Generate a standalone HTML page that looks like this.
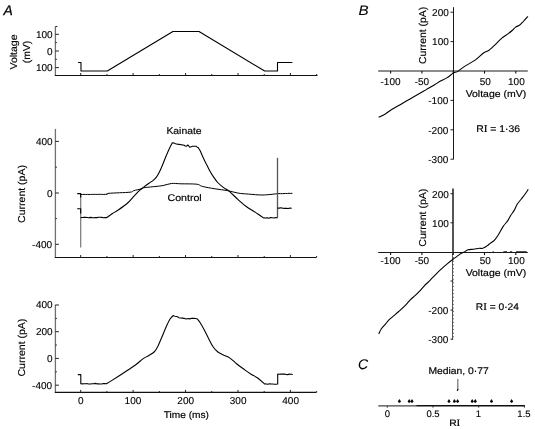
<!DOCTYPE html>
<html><head><meta charset="utf-8"><style>
html,body{margin:0;padding:0;background:#fff;}
svg{display:block;will-change:transform;}
text{font-family:"Liberation Sans", sans-serif;fill:#000;text-rendering:geometricPrecision;}
</style></head><body>
<svg width="535" height="429" viewBox="0 0 535 429">
<rect width="535" height="429" fill="#fff"/>
<text x="3.47" y="14.6" font-size="14" font-style="italic" stroke="#000" stroke-width="0.25" textLength="9.29" lengthAdjust="spacingAndGlyphs">A</text>
<line x1="55.4" y1="26.5" x2="55.4" y2="76" stroke="#707070" stroke-width="1.3"/>
<line x1="54.9" y1="75.5" x2="317.5" y2="75.5" stroke="#111" stroke-width="1"/>
<line x1="55.4" y1="34.3" x2="58.9" y2="34.3" stroke="#222" stroke-width="1"/>
<line x1="55.4" y1="42.6" x2="56.9" y2="42.6" stroke="#222" stroke-width="1"/>
<line x1="55.4" y1="51.0" x2="58.9" y2="51.0" stroke="#222" stroke-width="1"/>
<line x1="55.4" y1="59.3" x2="56.9" y2="59.3" stroke="#222" stroke-width="1"/>
<line x1="55.4" y1="67.6" x2="58.9" y2="67.6" stroke="#222" stroke-width="1"/>
<line x1="55.4" y1="26.5" x2="57.4" y2="26.5" stroke="#222" stroke-width="1"/>
<line x1="80.7" y1="75.5" x2="80.7" y2="73.0" stroke="#222" stroke-width="1"/>
<line x1="106.915" y1="75.5" x2="106.915" y2="74.0" stroke="#222" stroke-width="1"/>
<line x1="133.13" y1="75.5" x2="133.13" y2="73.0" stroke="#222" stroke-width="1"/>
<line x1="159.345" y1="75.5" x2="159.345" y2="74.0" stroke="#222" stroke-width="1"/>
<line x1="185.56" y1="75.5" x2="185.56" y2="73.0" stroke="#222" stroke-width="1"/>
<line x1="211.77499999999998" y1="75.5" x2="211.77499999999998" y2="74.0" stroke="#222" stroke-width="1"/>
<line x1="237.99" y1="75.5" x2="237.99" y2="73.0" stroke="#222" stroke-width="1"/>
<line x1="264.205" y1="75.5" x2="264.205" y2="74.0" stroke="#222" stroke-width="1"/>
<line x1="290.42" y1="75.5" x2="290.42" y2="73.0" stroke="#222" stroke-width="1"/>
<line x1="316.635" y1="75.5" x2="316.635" y2="74.0" stroke="#222" stroke-width="1"/>
<text x="35.90" y="38.1" font-size="10" stroke="#000" stroke-width="0.12" textLength="16.69" lengthAdjust="spacingAndGlyphs">100</text>
<text x="46.90" y="54.6" font-size="10" stroke="#000" stroke-width="0.12" textLength="5.56" lengthAdjust="spacingAndGlyphs">0</text>
<text x="35.90" y="71.2" font-size="10" stroke="#000" stroke-width="0.12" textLength="16.69" lengthAdjust="spacingAndGlyphs">100</text>
<text x="16.9" y="69.54" font-size="10" stroke="#000" stroke-width="0.15" textLength="35.14" lengthAdjust="spacingAndGlyphs" transform="rotate(-90 16.9 69.54)">Voltage</text>
<text x="30.4" y="63.28" font-size="10" stroke="#000" stroke-width="0.15" textLength="22.53" lengthAdjust="spacingAndGlyphs" transform="rotate(-90 30.4 63.28)">(mV)</text>
<polyline points="78.1,62.5 81.0,62.5 81.0,71.0 107.3,71.0 172.9,31.5 199.0,31.5 264.7,71.0 277.5,71.0 277.5,62.5 292.4,62.5" fill="none" stroke="#000" stroke-width="1.1" stroke-linejoin="round"/>
<line x1="55.4" y1="128.9" x2="55.4" y2="258" stroke="#707070" stroke-width="1.3"/>
<line x1="54.9" y1="257.5" x2="316.5" y2="257.5" stroke="#111" stroke-width="1"/>
<line x1="55.4" y1="141.4" x2="58.9" y2="141.4" stroke="#222" stroke-width="1"/>
<line x1="55.4" y1="167.2" x2="56.9" y2="167.2" stroke="#222" stroke-width="1"/>
<line x1="55.4" y1="193.0" x2="58.9" y2="193.0" stroke="#222" stroke-width="1"/>
<line x1="55.4" y1="218.6" x2="56.9" y2="218.6" stroke="#222" stroke-width="1"/>
<line x1="55.4" y1="244.3" x2="58.9" y2="244.3" stroke="#222" stroke-width="1"/>
<line x1="80.7" y1="257.5" x2="80.7" y2="255.0" stroke="#222" stroke-width="1"/>
<line x1="106.915" y1="257.5" x2="106.915" y2="256.0" stroke="#222" stroke-width="1"/>
<line x1="133.13" y1="257.5" x2="133.13" y2="255.0" stroke="#222" stroke-width="1"/>
<line x1="159.345" y1="257.5" x2="159.345" y2="256.0" stroke="#222" stroke-width="1"/>
<line x1="185.56" y1="257.5" x2="185.56" y2="255.0" stroke="#222" stroke-width="1"/>
<line x1="211.77499999999998" y1="257.5" x2="211.77499999999998" y2="256.0" stroke="#222" stroke-width="1"/>
<line x1="237.99" y1="257.5" x2="237.99" y2="255.0" stroke="#222" stroke-width="1"/>
<line x1="264.205" y1="257.5" x2="264.205" y2="256.0" stroke="#222" stroke-width="1"/>
<line x1="290.42" y1="257.5" x2="290.42" y2="255.0" stroke="#222" stroke-width="1"/>
<line x1="316.635" y1="257.5" x2="316.635" y2="256.0" stroke="#222" stroke-width="1"/>
<text x="35.90" y="145.0" font-size="10" stroke="#000" stroke-width="0.12" textLength="16.69" lengthAdjust="spacingAndGlyphs">400</text>
<text x="46.90" y="196.6" font-size="10" stroke="#000" stroke-width="0.12" textLength="5.56" lengthAdjust="spacingAndGlyphs">0</text>
<text x="32.07" y="247.8" font-size="10" stroke="#000" stroke-width="0.12" textLength="20.02" lengthAdjust="spacingAndGlyphs">-400</text>
<text x="25.0" y="222.88" font-size="10" stroke="#000" stroke-width="0.15" textLength="57.80" lengthAdjust="spacingAndGlyphs" transform="rotate(-90 25.0 222.88)">Current (pA)</text>
<text x="166.42" y="133.9" font-size="9.7" stroke="#000" stroke-width="0.18" textLength="35.16" lengthAdjust="spacingAndGlyphs">Kainate</text>
<text x="167.51" y="201.3" font-size="9.7" stroke="#000" stroke-width="0.18" textLength="34.20" lengthAdjust="spacingAndGlyphs">Control</text>
<line x1="80.7" y1="193.6" x2="80.7" y2="247.4" stroke="#777" stroke-width="1.2"/>
<path d="M77.20,193.60 L80.70,193.60 L80.70,197.50" fill="none" stroke="#000" stroke-width="1.1" stroke-linejoin="round"/>
<path d="M77.20,208.70 L80.70,208.70 L80.70,213.50" fill="none" stroke="#000" stroke-width="1.1" stroke-linejoin="round"/>
<path d="M80.70,194.50 L82.36,194.45 L84.01,194.40 L85.67,194.52 L87.33,194.37 L88.98,194.48 L90.64,194.43 L92.29,194.35 L93.95,194.45 L95.61,194.33 L97.26,194.42 L98.92,194.33 L100.58,194.33 L102.23,194.40 L103.89,194.49 L105.54,194.32 L107.20,194.40 C107.50,194.22 105.20,193.67 109.00,193.30 C112.80,192.93 125.92,192.63 130.00,192.20 C134.08,191.77 131.57,191.27 133.50,190.70 C135.43,190.13 139.95,189.28 141.60,188.80 C143.25,188.32 141.47,188.15 143.40,187.80 C145.33,187.45 149.95,187.07 153.20,186.70 C156.45,186.33 159.88,186.13 162.90,185.60 C165.92,185.07 168.27,183.80 171.30,183.50 C174.33,183.20 176.85,183.68 181.10,183.80 C185.35,183.92 193.27,183.77 196.80,184.20 C200.33,184.63 199.28,185.63 202.30,186.40 C205.32,187.17 210.70,188.10 214.90,188.80 C219.10,189.50 223.63,189.88 227.50,190.60 C231.37,191.32 234.58,192.52 238.10,193.10 C241.62,193.68 244.47,193.78 248.60,194.10 C252.73,194.42 258.12,195.07 262.90,195.00 C267.68,194.93 274.90,193.92 277.30,193.70 L278.98,193.59 L280.66,193.64 L282.33,193.67 L284.01,193.54 L285.69,193.45 L287.37,193.55 L289.04,193.28 L290.72,193.43 L292.40,193.30" fill="none" stroke="#000" stroke-width="1.0" stroke-linejoin="round"/>
<path d="M80.70,217.60 L82.33,217.45 L83.95,217.35 L85.58,217.33 L87.20,217.47 L88.83,217.82 L90.45,217.38 L92.08,217.66 L93.70,217.70 L95.33,217.51 L96.95,217.63 L98.58,217.29 L100.20,217.29 L101.83,217.39 L103.45,217.73 L105.08,217.55 L106.70,217.60 C107.67,216.92 110.57,214.77 112.50,213.50 C114.43,212.23 115.78,211.75 118.30,210.00 C120.82,208.25 125.07,205.23 127.60,203.00 C130.13,200.77 132.15,198.03 133.50,196.60 C134.85,195.17 134.73,195.38 135.70,194.40 C136.67,193.42 138.02,191.87 139.30,190.70 C140.58,189.53 141.78,188.65 143.40,187.40 C145.02,186.15 147.37,184.37 149.00,183.20 C150.63,182.03 151.93,181.45 153.20,180.40 C154.47,179.35 155.57,178.30 156.60,176.90 C157.63,175.50 158.47,173.87 159.40,172.00 C160.33,170.13 161.27,167.92 162.20,165.70 C163.13,163.48 163.95,161.25 165.00,158.70 C166.05,156.15 167.27,153.07 168.50,150.40 C169.73,147.73 171.75,143.98 172.40,142.70 L173.95,143.07 L175.50,143.70 L177.37,144.13 L179.23,144.40 L181.10,144.80 L182.65,144.91 L184.20,145.30 L185.25,145.96 L186.30,146.20 L187.00,145.74 L187.70,145.00 L188.75,145.97 L189.80,147.30 L191.20,146.80 L192.60,146.20 L194.35,146.22 L196.10,146.20 L197.15,147.16 L198.20,147.60 C198.55,148.18 199.50,149.48 200.30,151.10 C201.10,152.72 202.08,155.33 203.00,157.30 C203.92,159.27 204.75,160.80 205.80,162.90 C206.85,165.00 208.02,167.57 209.30,169.90 C210.58,172.23 212.10,174.80 213.50,176.90 C214.90,179.00 216.07,180.75 217.70,182.50 C219.33,184.25 221.32,185.88 223.30,187.40 C225.28,188.92 227.13,189.57 229.60,191.60 C232.07,193.63 235.38,197.17 238.10,199.60 C240.82,202.03 243.07,204.12 245.90,206.20 C248.73,208.28 252.80,210.58 255.10,212.10 C257.40,213.62 258.28,214.33 259.70,215.30 C261.12,216.27 262.95,217.47 263.60,217.90 L265.34,218.04 L267.08,217.70 L268.81,218.16 L270.55,217.53 L272.29,217.72 L274.02,217.93 L275.76,217.48 L277.50,217.70" fill="none" stroke="#000" stroke-width="1.1" stroke-linejoin="round"/>
<line x1="277.5" y1="157.8" x2="277.5" y2="218.2" stroke="#555" stroke-width="1.3"/>
<path d="M277.50,208.10 L279.27,208.12 L281.05,207.83 L282.82,208.29 L284.60,208.39 L286.38,208.28 L288.15,208.51 L289.93,208.14 L291.70,208.30" fill="none" stroke="#000" stroke-width="1.1" stroke-linejoin="round"/>
<line x1="55.4" y1="304.8" x2="55.4" y2="393" stroke="#707070" stroke-width="1.3"/>
<line x1="54.9" y1="392.4" x2="316.5" y2="392.4" stroke="#111" stroke-width="1.2"/>
<line x1="55.4" y1="305.0" x2="58.9" y2="305.0" stroke="#222" stroke-width="1"/>
<line x1="55.4" y1="318.4" x2="56.9" y2="318.4" stroke="#222" stroke-width="1"/>
<line x1="55.4" y1="331.7" x2="58.9" y2="331.7" stroke="#222" stroke-width="1"/>
<line x1="55.4" y1="345.0" x2="56.9" y2="345.0" stroke="#222" stroke-width="1"/>
<line x1="55.4" y1="358.4" x2="58.9" y2="358.4" stroke="#222" stroke-width="1"/>
<line x1="55.4" y1="371.8" x2="56.9" y2="371.8" stroke="#222" stroke-width="1"/>
<line x1="55.4" y1="385.2" x2="58.9" y2="385.2" stroke="#222" stroke-width="1"/>
<line x1="80.7" y1="392.4" x2="80.7" y2="389.9" stroke="#222" stroke-width="1"/>
<line x1="106.915" y1="392.4" x2="106.915" y2="391.0" stroke="#222" stroke-width="1"/>
<line x1="133.13" y1="392.4" x2="133.13" y2="389.9" stroke="#222" stroke-width="1"/>
<line x1="159.345" y1="392.4" x2="159.345" y2="391.0" stroke="#222" stroke-width="1"/>
<line x1="185.56" y1="392.4" x2="185.56" y2="389.9" stroke="#222" stroke-width="1"/>
<line x1="211.77499999999998" y1="392.4" x2="211.77499999999998" y2="391.0" stroke="#222" stroke-width="1"/>
<line x1="237.99" y1="392.4" x2="237.99" y2="389.9" stroke="#222" stroke-width="1"/>
<line x1="264.205" y1="392.4" x2="264.205" y2="391.0" stroke="#222" stroke-width="1"/>
<line x1="290.42" y1="392.4" x2="290.42" y2="389.9" stroke="#222" stroke-width="1"/>
<line x1="316.635" y1="392.4" x2="316.635" y2="391.0" stroke="#222" stroke-width="1"/>
<text x="35.90" y="308.2" font-size="10" stroke="#000" stroke-width="0.12" textLength="16.69" lengthAdjust="spacingAndGlyphs">400</text>
<text x="35.90" y="334.8" font-size="10" stroke="#000" stroke-width="0.12" textLength="16.69" lengthAdjust="spacingAndGlyphs">200</text>
<text x="46.90" y="361.8" font-size="10" stroke="#000" stroke-width="0.12" textLength="5.56" lengthAdjust="spacingAndGlyphs">0</text>
<text x="32.07" y="389.4" font-size="10" stroke="#000" stroke-width="0.12" textLength="20.02" lengthAdjust="spacingAndGlyphs">-400</text>
<text x="24.8" y="376.48" font-size="10" stroke="#000" stroke-width="0.15" textLength="57.80" lengthAdjust="spacingAndGlyphs" transform="rotate(-90 24.8 376.48)">Current (pA)</text>
<text x="78.09" y="403.9" font-size="10" stroke="#000" stroke-width="0.12" textLength="5.56" lengthAdjust="spacingAndGlyphs">0</text>
<text x="124.60" y="403.9" font-size="10" stroke="#000" stroke-width="0.12" textLength="16.69" lengthAdjust="spacingAndGlyphs">100</text>
<text x="177.37" y="403.9" font-size="10" stroke="#000" stroke-width="0.12" textLength="16.69" lengthAdjust="spacingAndGlyphs">200</text>
<text x="229.78" y="403.9" font-size="10" stroke="#000" stroke-width="0.12" textLength="16.69" lengthAdjust="spacingAndGlyphs">300</text>
<text x="282.30" y="403.9" font-size="10" stroke="#000" stroke-width="0.12" textLength="16.69" lengthAdjust="spacingAndGlyphs">400</text>
<text x="163.65" y="418.4" font-size="9.7" stroke="#000" stroke-width="0.18" textLength="45.33" lengthAdjust="spacingAndGlyphs">Time (ms)</text>
<path d="M77.80,374.60 L80.80,374.60 L80.80,383.70 L82.41,383.84 L84.01,383.77 L85.62,383.76 L87.22,383.67 L88.83,383.94 L90.44,384.01 L92.04,383.68 L93.65,383.81 L95.26,383.39 L96.86,383.84 L98.47,383.80 L100.08,384.05 L101.68,383.93 L103.29,383.55 L104.89,383.62 L106.50,383.70 C107.28,383.23 108.25,382.77 111.20,380.90 C114.15,379.03 120.17,375.15 124.20,372.50 C128.23,369.85 132.28,367.27 135.40,365.00 C138.52,362.73 140.72,360.45 142.90,358.90 C145.08,357.35 146.63,356.85 148.50,355.70 C150.37,354.55 152.55,353.55 154.10,352.00 C155.65,350.45 156.57,348.73 157.80,346.40 C159.03,344.07 160.10,341.27 161.50,338.00 C162.90,334.73 164.80,329.92 166.20,326.80 C167.60,323.68 168.75,321.17 169.90,319.30 C171.05,317.43 172.57,316.22 173.10,315.60 L174.80,316.17 L176.50,316.50 L177.60,316.77 L178.70,317.70 L180.57,318.00 L182.45,318.12 L184.32,318.41 L186.20,319.00 L188.05,318.54 L189.90,318.89 L191.75,318.29 L193.60,318.40 L195.50,318.52 L197.40,319.00 C197.87,319.62 199.12,321.00 200.20,322.70 C201.28,324.40 202.50,326.55 203.90,329.20 C205.30,331.85 207.05,335.63 208.60,338.60 C210.15,341.57 211.65,344.77 213.20,347.00 C214.75,349.23 216.18,350.67 217.90,352.00 C219.62,353.33 221.48,353.98 223.50,355.00 C225.52,356.02 227.83,356.65 230.00,358.10 C232.17,359.55 234.17,361.83 236.50,363.70 C238.83,365.57 241.63,367.58 244.00,369.30 C246.37,371.02 248.48,372.58 250.70,374.00 C252.92,375.42 255.00,376.13 257.30,377.80 C259.60,379.47 263.30,382.97 264.50,384.00 L266.15,383.92 L267.80,384.26 L269.45,383.71 L271.10,383.96 L272.75,384.03 L274.40,384.27 L276.05,384.22 L277.70,384.00 L277.70,374.00 L279.38,374.31 L281.06,373.96 L282.73,374.11 L284.41,374.12 L286.09,374.55 L287.77,374.65 L289.44,374.14 L291.12,374.22 L292.80,374.50" fill="none" stroke="#000" stroke-width="1.1" stroke-linejoin="round"/>
<text x="358.51" y="14.5" font-size="13.7" font-style="italic" stroke="#000" stroke-width="0.08" textLength="10.14" lengthAdjust="spacingAndGlyphs">B</text>
<line x1="378.2" y1="71.0" x2="527.8" y2="71.0" stroke="#1a1a1a" stroke-width="1"/>
<line x1="453.5" y1="7.2" x2="453.5" y2="159.5" stroke="#1a1a1a" stroke-width="1"/>
<line x1="390.59999999999997" y1="71.0" x2="390.59999999999997" y2="73.6" stroke="#111" stroke-width="1.1"/>
<line x1="421.9" y1="71.0" x2="421.9" y2="73.6" stroke="#111" stroke-width="1.1"/>
<line x1="453.2" y1="71.0" x2="453.2" y2="73.6" stroke="#111" stroke-width="1.1"/>
<line x1="484.5" y1="71.0" x2="484.5" y2="73.6" stroke="#111" stroke-width="1.1"/>
<line x1="515.8" y1="71.0" x2="515.8" y2="73.6" stroke="#111" stroke-width="1.1"/>
<line x1="450.5" y1="12.200000000000003" x2="453.2" y2="12.200000000000003" stroke="#222" stroke-width="1"/>
<line x1="450.5" y1="41.6" x2="453.2" y2="41.6" stroke="#222" stroke-width="1"/>
<line x1="450.5" y1="100.4" x2="453.2" y2="100.4" stroke="#222" stroke-width="1"/>
<line x1="450.5" y1="129.8" x2="453.2" y2="129.8" stroke="#222" stroke-width="1"/>
<line x1="450.5" y1="159.2" x2="453.2" y2="159.2" stroke="#222" stroke-width="1"/>
<text x="432.10" y="16.000000000000004" font-size="10" stroke="#000" stroke-width="0.12" textLength="16.69" lengthAdjust="spacingAndGlyphs">200</text>
<text x="432.10" y="45.4" font-size="10" stroke="#000" stroke-width="0.12" textLength="16.69" lengthAdjust="spacingAndGlyphs">100</text>
<text x="428.27" y="104.2" font-size="10" stroke="#000" stroke-width="0.12" textLength="20.02" lengthAdjust="spacingAndGlyphs">-100</text>
<text x="428.27" y="133.60000000000002" font-size="10" stroke="#000" stroke-width="0.12" textLength="20.02" lengthAdjust="spacingAndGlyphs">-200</text>
<text x="428.27" y="163.0" font-size="10" stroke="#000" stroke-width="0.12" textLength="20.02" lengthAdjust="spacingAndGlyphs">-300</text>
<text x="380.49" y="84.6" font-size="10" stroke="#000" stroke-width="0.12" textLength="20.02" lengthAdjust="spacingAndGlyphs">-100</text>
<text x="414.70" y="84.6" font-size="10" stroke="#000" stroke-width="0.12" textLength="14.45" lengthAdjust="spacingAndGlyphs">-50</text>
<text x="479.65" y="84.6" font-size="10" stroke="#000" stroke-width="0.12" textLength="11.12" lengthAdjust="spacingAndGlyphs">50</text>
<text x="508.07" y="84.6" font-size="10" stroke="#000" stroke-width="0.12" textLength="16.69" lengthAdjust="spacingAndGlyphs">100</text>
<text x="425.6" y="63.87" font-size="10" stroke="#000" stroke-width="0.15" textLength="56.99" lengthAdjust="spacingAndGlyphs" transform="rotate(-90 425.6 63.87)">Current (pA)</text>
<text x="465.65" y="96.8" font-size="9.7" stroke="#000" stroke-width="0.18" textLength="60.55" lengthAdjust="spacingAndGlyphs">Voltage (mV)</text>
<text x="476.15" y="131.6" font-size="9.7" stroke="#000" stroke-width="0.18" textLength="43.94" lengthAdjust="spacingAndGlyphs">R<tspan font-family="Liberation Serif" font-size="1.08em">I</tspan> = 1·36</text>
<path d="M378.60,117.20 C379.72,116.67 383.12,115.28 385.30,114.00 C387.48,112.72 389.15,111.10 391.70,109.50 C394.25,107.90 397.62,106.12 400.60,104.40 C403.58,102.68 406.60,100.92 409.60,99.20 C412.60,97.48 415.82,95.70 418.60,94.10 C421.38,92.50 423.63,91.15 426.30,89.60 C428.97,88.05 432.23,86.23 434.60,84.80 C436.97,83.37 438.47,82.15 440.50,81.00 C442.53,79.85 444.62,79.25 446.80,77.90 C448.98,76.55 451.85,73.95 453.60,72.90 C455.35,71.85 455.47,72.68 457.30,71.60 C459.13,70.52 461.63,68.32 464.60,66.40 C467.57,64.48 471.97,62.33 475.10,60.10 C478.23,57.87 481.08,54.65 483.40,53.00 C485.72,51.35 486.90,51.72 489.00,50.20 C491.10,48.68 493.90,45.88 496.00,43.90 C498.10,41.92 499.50,40.05 501.60,38.30 C503.70,36.55 506.73,34.80 508.60,33.40 C510.47,32.00 511.63,30.95 512.80,29.90 C513.97,28.85 514.43,27.92 515.60,27.10 C516.77,26.28 518.52,25.93 519.80,25.00 C521.08,24.07 521.95,22.95 523.30,21.50 C524.65,20.05 527.13,17.17 527.90,16.30" fill="none" stroke="#000" stroke-width="1.1" stroke-linejoin="round"/>
<line x1="378.2" y1="252.5" x2="527.8" y2="252.5" stroke="#1a1a1a" stroke-width="1"/>
<line x1="453.0" y1="188.4" x2="453.0" y2="252.5" stroke="#2a2a2a" stroke-width="1.6"/>
<line x1="452.5" y1="252.5" x2="452.5" y2="339.2" stroke="#555" stroke-width="1"/>
<line x1="453.5" y1="253.5" x2="453.5" y2="339.2" stroke="#666" stroke-width="1" stroke-dasharray="1 2.6"/>
<line x1="390.59999999999997" y1="252.5" x2="390.59999999999997" y2="255.1" stroke="#111" stroke-width="1.1"/>
<line x1="421.9" y1="252.5" x2="421.9" y2="255.1" stroke="#111" stroke-width="1.1"/>
<line x1="453.2" y1="252.5" x2="453.2" y2="255.1" stroke="#111" stroke-width="1.1"/>
<line x1="484.5" y1="252.5" x2="484.5" y2="255.1" stroke="#111" stroke-width="1.1"/>
<line x1="515.8" y1="252.5" x2="515.8" y2="255.1" stroke="#111" stroke-width="1.1"/>
<line x1="450.5" y1="193.7" x2="453.2" y2="193.7" stroke="#222" stroke-width="1"/>
<line x1="450.5" y1="222.8" x2="453.2" y2="222.8" stroke="#222" stroke-width="1"/>
<line x1="450.5" y1="281.0" x2="453.2" y2="281.0" stroke="#222" stroke-width="1"/>
<line x1="450.5" y1="310.1" x2="453.2" y2="310.1" stroke="#222" stroke-width="1"/>
<line x1="450.5" y1="339.20000000000005" x2="453.2" y2="339.20000000000005" stroke="#222" stroke-width="1"/>
<text x="432.10" y="197.5" font-size="10" stroke="#000" stroke-width="0.12" textLength="16.69" lengthAdjust="spacingAndGlyphs">200</text>
<text x="432.10" y="226.60000000000002" font-size="10" stroke="#000" stroke-width="0.12" textLength="16.69" lengthAdjust="spacingAndGlyphs">100</text>
<text x="428.27" y="313.90000000000003" font-size="10" stroke="#000" stroke-width="0.12" textLength="20.02" lengthAdjust="spacingAndGlyphs">-200</text>
<text x="428.27" y="343.00000000000006" font-size="10" stroke="#000" stroke-width="0.12" textLength="20.02" lengthAdjust="spacingAndGlyphs">-300</text>
<text x="380.49" y="263.9" font-size="10" stroke="#000" stroke-width="0.12" textLength="20.02" lengthAdjust="spacingAndGlyphs">-100</text>
<text x="414.70" y="263.9" font-size="10" stroke="#000" stroke-width="0.12" textLength="14.45" lengthAdjust="spacingAndGlyphs">-50</text>
<text x="479.65" y="263.9" font-size="10" stroke="#000" stroke-width="0.12" textLength="11.12" lengthAdjust="spacingAndGlyphs">50</text>
<text x="508.07" y="263.9" font-size="10" stroke="#000" stroke-width="0.12" textLength="16.69" lengthAdjust="spacingAndGlyphs">100</text>
<text x="425.6" y="246.68" font-size="10" stroke="#000" stroke-width="0.15" textLength="58.01" lengthAdjust="spacingAndGlyphs" transform="rotate(-90 425.6 246.68)">Current (pA)</text>
<text x="465.65" y="275.8" font-size="9.7" stroke="#000" stroke-width="0.18" textLength="60.55" lengthAdjust="spacingAndGlyphs">Voltage (mV)</text>
<text x="475.77" y="309.6" font-size="9.7" stroke="#000" stroke-width="0.18" textLength="43.20" lengthAdjust="spacingAndGlyphs">R<tspan font-family="Liberation Serif" font-size="1.08em">I</tspan> = 0·24</text>
<path d="M378.80,333.90 C379.20,333.08 380.03,330.70 381.20,329.00 C382.37,327.30 384.55,325.17 385.80,323.70 C387.05,322.23 387.33,321.55 388.70,320.20 C390.07,318.85 392.33,317.05 394.00,315.60 C395.67,314.15 396.77,313.25 398.70,311.50 C400.63,309.75 403.67,307.05 405.60,305.10 C407.53,303.15 408.73,301.37 410.30,299.80 C411.87,298.23 413.45,297.15 415.00,295.70 C416.55,294.25 418.05,292.75 419.60,291.10 C421.15,289.45 423.00,287.17 424.30,285.80 C425.60,284.43 426.45,283.80 427.40,282.90 C428.35,282.00 428.60,281.83 430.00,280.40 C431.40,278.97 433.85,276.27 435.80,274.30 C437.75,272.33 439.75,270.38 441.70,268.60 C443.65,266.82 445.62,265.17 447.50,263.60 C449.38,262.03 451.42,260.40 453.00,259.20 C454.58,258.00 455.73,257.30 457.00,256.40 C458.27,255.50 459.38,254.53 460.60,253.80 C461.82,253.07 463.05,252.67 464.30,252.00 C465.55,251.33 466.53,250.27 468.10,249.80 C469.67,249.33 471.83,249.47 473.70,249.20 C475.57,248.93 477.90,248.32 479.30,248.20 C480.70,248.08 481.17,248.65 482.10,248.50 C483.03,248.35 483.97,247.82 484.90,247.30 C485.83,246.78 486.77,246.10 487.70,245.40 C488.63,244.70 489.40,243.95 490.50,243.10 C491.60,242.25 493.07,241.57 494.30,240.30 C495.53,239.03 496.42,237.82 497.90,235.50 C499.38,233.18 501.55,228.88 503.20,226.40 C504.85,223.92 506.53,222.45 507.80,220.60 C509.07,218.75 509.72,217.05 510.80,215.30 C511.88,213.55 513.23,211.93 514.30,210.10 C515.37,208.27 516.03,206.15 517.20,204.30 C518.37,202.45 519.95,200.75 521.30,199.00 C522.65,197.25 524.13,195.40 525.30,193.80 C526.47,192.20 527.80,190.13 528.30,189.40" fill="none" stroke="#000" stroke-width="1.1" stroke-linejoin="round"/>
<line x1="492.6" y1="251.5" x2="493.8" y2="251.5" stroke="#555" stroke-width="1"/>
<line x1="503.4" y1="251.5" x2="507.1" y2="251.5" stroke="#555" stroke-width="1"/>
<line x1="509.9" y1="251.5" x2="512.2" y2="251.5" stroke="#555" stroke-width="1"/>
<line x1="516" y1="251.5" x2="526.7" y2="251.5" stroke="#555" stroke-width="1"/>
<text x="357.90" y="368.6" font-size="14" font-style="italic" stroke="#000" stroke-width="0.08" textLength="10.17" lengthAdjust="spacingAndGlyphs">C</text>
<line x1="378.3" y1="405.9" x2="416.2" y2="405.9" stroke="#444" stroke-width="1.1"/>
<line x1="416.2" y1="405.8" x2="524.9" y2="405.8" stroke="#111" stroke-width="1.6"/>
<line x1="387.3" y1="406" x2="387.3" y2="407.6" stroke="#222" stroke-width="1"/>
<text x="384.68" y="417" font-size="9.5" stroke="#000" stroke-width="0.12" textLength="5.30" lengthAdjust="spacingAndGlyphs">0</text>
<line x1="433.0" y1="406" x2="433.0" y2="407.6" stroke="#222" stroke-width="1"/>
<text x="426.40" y="417" font-size="9.5" stroke="#000" stroke-width="0.12" textLength="13.22" lengthAdjust="spacingAndGlyphs">0.5</text>
<line x1="478.70000000000005" y1="406" x2="478.70000000000005" y2="407.6" stroke="#222" stroke-width="1"/>
<text x="475.77" y="417" font-size="9.5" stroke="#000" stroke-width="0.12" textLength="5.30" lengthAdjust="spacingAndGlyphs">1</text>
<line x1="524.4000000000001" y1="406" x2="524.4000000000001" y2="407.6" stroke="#222" stroke-width="1"/>
<text x="517.37" y="417" font-size="9.5" stroke="#000" stroke-width="0.12" textLength="13.22" lengthAdjust="spacingAndGlyphs">1.5</text>
<text x="449.16" y="425.7" font-size="9.2" stroke="#000" stroke-width="0.18" textLength="11.20" lengthAdjust="spacingAndGlyphs">R<tspan font-family="Liberation Serif" font-size="1.08em">I</tspan></text>
<text x="428.43" y="374.2" font-size="9.7" stroke="#000" stroke-width="0.18" textLength="60.33" lengthAdjust="spacingAndGlyphs">Median, 0·77</text>
<line x1="457.8" y1="379.1" x2="457.8" y2="390.3" stroke="#666" stroke-width="1.1"/>
<path d="M457.9,388.6 L458.5,389.4 L457.4,391.2 L456.6,390.6 Z" fill="#000"/>
<path d="M399.4,398.9 L401.0,401.6 L399.9,402.7 L398.9,402.7 L397.79999999999995,401.6 Z" fill="#000"/>
<path d="M409.2,398.9 L410.8,401.6 L409.7,402.7 L408.7,402.7 L407.59999999999997,401.6 Z" fill="#000"/>
<path d="M412.0,398.9 L413.6,401.6 L412.5,402.7 L411.5,402.7 L410.4,401.6 Z" fill="#000"/>
<path d="M449.0,398.9 L450.6,401.6 L449.5,402.7 L448.5,402.7 L447.4,401.6 Z" fill="#000"/>
<path d="M454.4,398.9 L456.0,401.6 L454.9,402.7 L453.9,402.7 L452.79999999999995,401.6 Z" fill="#000"/>
<path d="M457.6,398.9 L459.20000000000005,401.6 L458.1,402.7 L457.1,402.7 L456.0,401.6 Z" fill="#000"/>
<path d="M472.2,398.9 L473.8,401.6 L472.7,402.7 L471.7,402.7 L470.59999999999997,401.6 Z" fill="#000"/>
<path d="M475.3,398.9 L476.90000000000003,401.6 L475.8,402.7 L474.8,402.7 L473.7,401.6 Z" fill="#000"/>
<path d="M491.5,398.9 L493.1,401.6 L492.0,402.7 L491.0,402.7 L489.9,401.6 Z" fill="#000"/>
<path d="M511.6,398.9 L513.2,401.6 L512.1,402.7 L511.1,402.7 L510.0,401.6 Z" fill="#000"/>
</svg>
</body></html>
